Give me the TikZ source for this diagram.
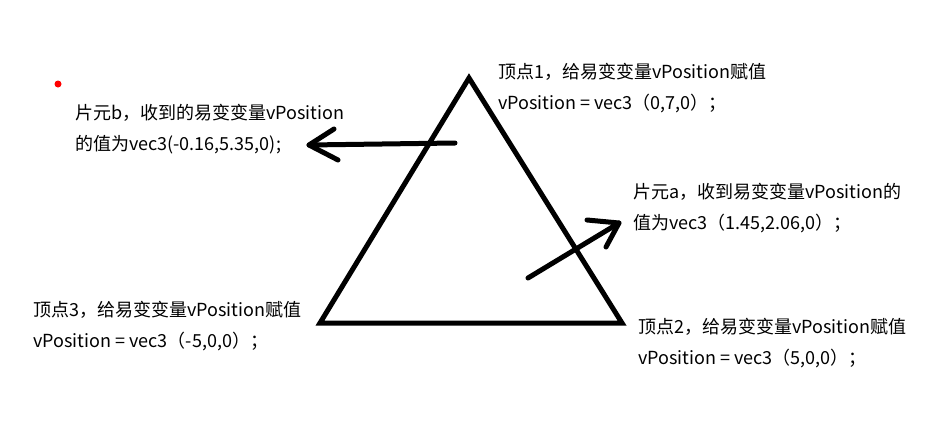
\documentclass[tikz,border=0pt]{standalone}
\usepackage{fontspec}
\setmainfont{Noto Sans CJK SC}
\begin{document}
\begin{tikzpicture}[x=1pt,y=-1pt,
  lbl/.style={anchor=west,inner sep=0pt,align=left,font=\fontsize{18}{31}\selectfont},
  stroke/.style={line width=5pt,line cap=round,line join=round}]
\useasboundingbox (0,0) rectangle (950,431);
% triangle
\coordinate (A) at (469,78);
\coordinate (B) at (622,323);
\coordinate (C) at (320,323);
\draw[stroke,line join=miter] (A) -- (B) -- (C) -- cycle;
% red dot
\fill[red] (58,84) circle (3.5);
% arrow b
\coordinate (bt) at (455,143);
\coordinate (bh) at (309,145);
\coordinate (bh1) at (334,129);
\coordinate (bh2) at (338,160);
\draw[stroke] (bt) -- (bh);
\draw[stroke] (bh1) -- (bh) -- (bh2);
% arrow a
\coordinate (at) at (528,278);
\coordinate (ah) at (619,223);
\coordinate (ah1) at (587,220);
\coordinate (ah2) at (606,247);
\draw[stroke] (at) -- (ah);
\draw[stroke] (ah1) -- (ah) -- (ah2);
% labels
\node[lbl] (v1) at (498,88) {顶点1，给易变变量vPosition赋值\\vPosition = vec3（0,7,0）；};
\node[lbl] (fb) at (75,129) {片元b，收到的易变变量vPosition\\的值为vec3(-0.16,5.35,0);};
\node[lbl] (fa) at (633,208) {片元a，收到易变变量vPosition的\\值为vec3（1.45,2.06,0）；};
\node[lbl] (v3) at (33,326) {顶点3，给易变变量vPosition赋值\\vPosition = vec3（-5,0,0）；};
\node[lbl] (v2) at (638,343) {顶点2，给易变变量vPosition赋值\\vPosition = vec3（5,0,0）；};
\end{tikzpicture}
\end{document}
